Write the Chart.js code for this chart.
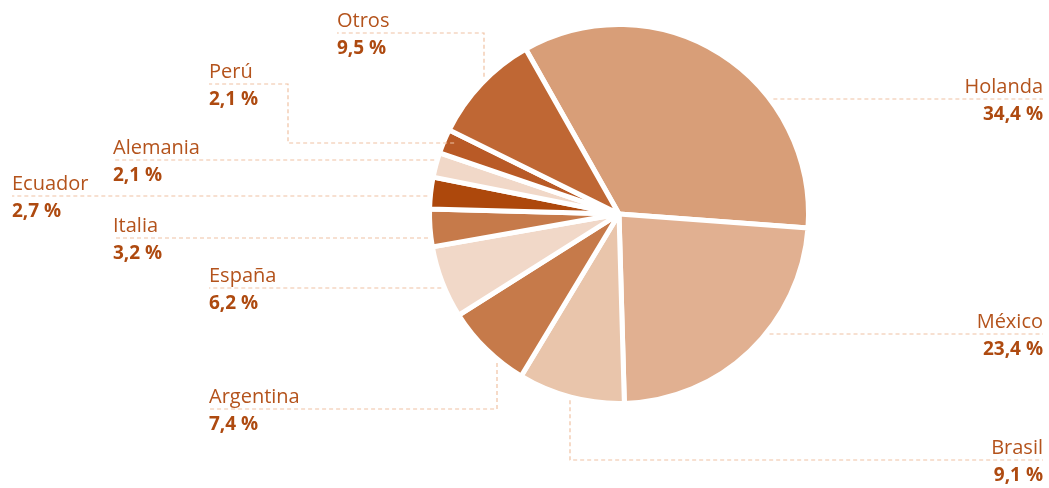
<!DOCTYPE html>
<html>
<head>
<meta charset="utf-8">
<script src="https://cdn.jsdelivr.net/npm/chart.js@4.4.0/dist/chart.umd.min.js"></script>
<style>
  html, body { margin: 0; padding: 0; background: #ffffff; }
  #wrap { position: relative; width: 1049px; height: 488px; }
</style>
</head>
<body>
<div id="wrap"><canvas id="c" width="1049" height="488"></canvas></div>
<script>
// ---- data ----
const categories = ['Holanda', 'México', 'Brasil', 'Argentina', 'España', 'Italia', 'Ecuador', 'Alemania', 'Perú', 'Otros'];
const shares = [34.4, 23.4, 9.1, 7.4, 6.2, 3.2, 2.7, 2.1, 2.1, 9.5];
const valueLabels = ['34,4 %', '23,4 %', '9,1 %', '7,4 %', '6,2 %', '3,2 %', '2,7 %', '2,1 %', '2,1 %', '9,5 %'];

// ---- styles ----
const sliceColors = ['#D89E78', '#E1B091', '#E9C5AB', '#C67A4A', '#F1D8C8', '#C67A4A', '#AD480C', '#F1D8C8', '#B95A26', '#BF6734'];
const nameColor = '#B4531C';
const valueColor = '#AE4A10';
const leaderColor = '#F0C2A3';

// ---- label layout (callout routes) ----
// start: leader begins on a horizontal line (h, y) or vertical line (v, x) at the pie edge + dr
const labelLayout = [
  { align: 'right', textX: 1043, start: { axis: 'h', at: 99, dr: 3 },  moves: [{ x: 1043 }] },
  { align: 'right', textX: 1043, start: { axis: 'h', at: 334, dr: 3 }, moves: [{ x: 1043 }] },
  { align: 'right', textX: 1043, start: { axis: 'v', at: 570, dr: 3 }, moves: [{ y: 460 }, { x: 1043 }] },
  { align: 'left',  textX: 209,  start: { axis: 'v', at: 497, dr: 3 }, moves: [{ y: 409 }, { x: 209 }] },
  { align: 'left',  textX: 209,  start: { axis: 'h', at: 288, dr: 3 }, moves: [{ x: 209 }] },
  { align: 'left',  textX: 113,  start: { axis: 'h', at: 238, dr: 3 }, moves: [{ x: 113 }] },
  { align: 'left',  textX: 12,   start: { axis: 'h', at: 196, dr: 3 }, moves: [{ x: 12 }] },
  { align: 'left',  textX: 113,  start: { axis: 'h', at: 160, dr: 3 }, moves: [{ x: 113 }] },
  { align: 'left',  textX: 209,  start: { axis: 'h', at: 143, dr: -10 }, moves: [{ x: 288 }, { y: 84 }, { x: 209 }] },
  { align: 'left',  textX: 337,  start: { axis: 'v', at: 484, dr: 3 }, moves: [{ y: 33 }, { x: 337 }] }
];

const calloutPlugin = {
  id: 'callouts',
  afterDatasetsDraw(chart) {
    const ctx = chart.ctx;
    const meta = chart.getDatasetMeta(0);
    const arc0 = meta.data[0];
    const cx = arc0.x, cy = arc0.y;
    const R0 = arc0.outerRadius;
    ctx.save();
    labelLayout.forEach((L, i) => {
      const R = R0 + L.start.dr;
      let px, py;
      if (L.start.axis === 'h') {
        py = L.start.at;
        const d = Math.sqrt(Math.max(R * R - (py - cy) * (py - cy), 0));
        px = L.align === 'right' ? cx + d : cx - d;
      } else {
        px = L.start.at;
        const d = Math.sqrt(Math.max(R * R - (px - cx) * (px - cx), 0));
        const goingDown = L.moves[0].y !== undefined && L.moves[0].y > cy;
        py = goingDown ? cy + d : cy - d;
      }
      ctx.beginPath();
      ctx.setLineDash([4, 3]);
      ctx.lineWidth = 1.2;
      ctx.strokeStyle = leaderColor;
      ctx.moveTo(px, py);
      let x = px, y = py;
      L.moves.forEach(m => {
        if (m.x !== undefined) x = m.x;
        if (m.y !== undefined) y = m.y;
        ctx.lineTo(x, y);
      });
      ctx.stroke();
      ctx.setLineDash([]);
      const lineY = y;
      ctx.textAlign = L.align;
      ctx.textBaseline = 'alphabetic';
      ctx.fillStyle = nameColor;
      ctx.font = '20px "Open Sans"';
      ctx.fillText(categories[i], L.textX, lineY - 6);
      ctx.fillStyle = valueColor;
      ctx.font = 'bold 19px "Open Sans"';
      ctx.fillText(valueLabels[i], L.textX, lineY + 21);
    });
    ctx.restore();
  }
};

new Chart(document.getElementById('c'), {
  type: 'pie',
  data: {
    labels: categories,
    datasets: [{
      data: shares,
      backgroundColor: sliceColors,
      borderColor: '#ffffff',
      borderWidth: 5,
      hoverOffset: 0
    }]
  },
  options: {
    responsive: false,
    animation: false,
    rotation: -29.5,
    layout: { padding: { top: 22, bottom: 82, left: 427, right: 238 } },
    plugins: {
      legend: { display: false },
      tooltip: { enabled: false }
    }
  },
  plugins: [calloutPlugin]
});
</script>
</body>
</html>
